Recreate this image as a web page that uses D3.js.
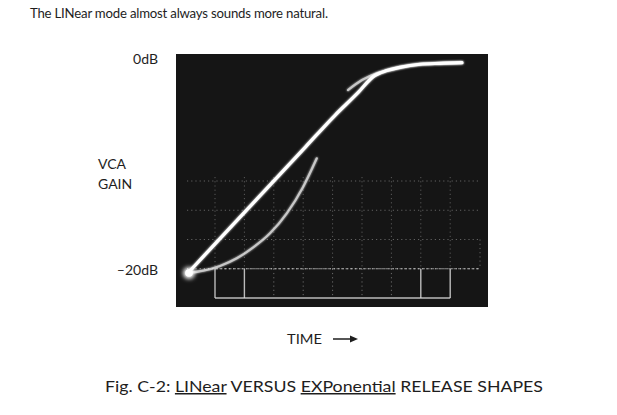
<!DOCTYPE html>
<html><head><meta charset="utf-8">
<script src="https://cdn.jsdelivr.net/npm/d3@7"></script>
<style>body{margin:0;background:#fff}</style>
</head><body><svg id="c" width="617" height="415"></svg>
<script>
// ---- data (time in graticule divisions from trace start, gain in dB) ----
const linearTime = [0, 1, 2, 3, 4, 5, 5.8, 6.29, 6.76, 7.2, 7.89, 8.57, 9.32];
const linearDb   = [-20, -17.0, -14.0, -11.0, -8.0, -5.0, -2.8, -1.35, -0.75, -0.45, -0.15, -0.06, 0];
const expTime    = [0, 0.52, 1.09, 1.66, 2.22, 2.79, 3.36, 3.92, 4.38, 4.9, 5.44, 5.92, 6.42, 6.76, 7.2, 7.89, 8.57, 9.32];
const expDb      = [-20, -19.78, -19.33, -18.6, -17.56, -16.22, -14.32, -11.79, -9.09, null, -2.6, -1.65, -1.0, -0.75, -0.45, -0.15, -0.06, 0];
const gainTicks  = [0, -20];
const gainLabels = ["0dB", "\u201320dB"];
const gridCols   = [0, 1, 2, 3, 4, 5, 6, 7, 8];
const gridRows   = [1, 2, 3, 4];
const boxCols    = [0, 1, 7, 8];

const svg = d3.select("#c");
const x = d3.scaleLinear().domain([0, 10]).range([188, 482]);
const y = d3.scaleLinear().domain([-20, 0]).range([273, 62.7]);
const gx = d3.scaleLinear().domain([0, 8]).range([215, 450.2]);
const gy = d3.scaleLinear().domain([0, 4]).range([298, 181]);

const defs = svg.append("defs");
const f = defs.append("filter").attr("id","glow").attr("x","-20%").attr("y","-20%").attr("width","140%").attr("height","140%");
f.append("feGaussianBlur").attr("in","SourceGraphic").attr("stdDeviation",1.3).attr("result","b");
const m = f.append("feMerge"); m.append("feMergeNode").attr("in","b"); m.append("feMergeNode").attr("in","SourceGraphic");
const f2 = defs.append("filter").attr("id","blur").attr("x","-100%").attr("y","-100%").attr("width","300%").attr("height","300%");
f2.append("feGaussianBlur").attr("stdDeviation",2.2);

const font = "Lato, 'Noto Sans', sans-serif";
const ink = "#1e1e1e";

// title
svg.append("text").attr("x",30).attr("y",18).attr("font-family",font).attr("font-size",13.2)
  .attr("fill",ink).attr("textLength",298).attr("lengthAdjust","spacing")
  .text("The LINear mode almost always sounds more natural.");

// scope screen
svg.append("rect").attr("x",176).attr("y",54).attr("width",312).attr("height",253).attr("fill","#151515");

// graticule
const g = svg.append("g").attr("stroke","#d8d8d8").attr("fill","none");
g.selectAll("line.row").data(gridRows).join("line")
  .attr("x1",187).attr("x2",480).attr("y1",d=>gy(d)).attr("y2",d=>gy(d))
  .attr("stroke-width",1).attr("stroke-dasharray","1.2 3").attr("opacity",d=>d===1?0.75:0.4);
g.selectAll("line.col").data(gridCols).join("line")
  .attr("x1",d=>gx(d)).attr("x2",d=>gx(d)).attr("y1",gy(4)-4).attr("y2",gy(1))
  .attr("stroke-width",1).attr("stroke-dasharray","1.2 3").attr("opacity",0.35);
g.selectAll("line.colb").data(gridCols).join("line")
  .attr("x1",d=>gx(d)).attr("x2",d=>gx(d)).attr("y1",gy(1)).attr("y2",gy(0))
  .attr("stroke-width",d=>boxCols.includes(d)?1.4:1)
  .attr("stroke-dasharray",d=>boxCols.includes(d)?null:"1.2 3")
  .attr("opacity",d=>boxCols.includes(d)?0.85:0.45);
g.append("line").attr("x1",gx(0)).attr("x2",gx(8)).attr("y1",gy(0)).attr("y2",gy(0))
  .attr("stroke-width",1.4).attr("opacity",0.85);
g.append("line").attr("x1",gx(0)).attr("x2",480).attr("y1",gy(1)).attr("y2",gy(1))
  .attr("stroke-width",1.2).attr("stroke-dasharray","3 1.5").attr("opacity",0.6);
g.append("line").attr("x1",480).attr("x2",480).attr("y1",gy(2)).attr("y2",gy(1))
  .attr("stroke-width",1).attr("stroke-dasharray","1.2 3").attr("opacity",0.4);

// traces
const linePts = linearTime.map((t,i)=>({t, db: linearDb[i]}));
const expPts = expTime.map((t,i)=>({t, db: expDb[i]}));
const gen = d3.line().defined(d=>d.db!=null).x(d=>x(d.t)).y(d=>y(d.db)).curve(d3.curveMonotoneX);

svg.append("path").datum(expPts).attr("d",gen).attr("fill","none")
  .attr("stroke","#f4f4f4").attr("stroke-width",2.2).attr("opacity",0.8)
  .attr("stroke-linecap","round").attr("filter","url(#glow)");
svg.append("path").datum(linePts).attr("d",gen).attr("fill","none")
  .attr("stroke","#ffffff").attr("stroke-width",3.2)
  .attr("stroke-linecap","round").attr("filter","url(#glow)");
svg.append("circle").attr("cx",x(0)+1).attr("cy",y(-20)).attr("r",6).attr("fill","#fff").attr("filter","url(#blur)");
svg.append("circle").attr("cx",x(0)+1).attr("cy",y(-20)).attr("r",3.8).attr("fill","#fff");

// gain labels
svg.selectAll("text.tick").data(gainTicks).join("text")
  .attr("x",158).attr("y",d=>y(d)+1.6).attr("text-anchor","end")
  .attr("font-family",font).attr("font-size",14).attr("fill",ink)
  .text((d,i)=>gainLabels[i]);
svg.append("text").attr("x",98).attr("y",169).attr("font-family",font).attr("font-size",14).attr("fill",ink).text("VCA");
svg.append("text").attr("x",98).attr("y",189).attr("font-family",font).attr("font-size",14).attr("fill",ink).text("GAIN");

// time label + arrow
svg.append("text").attr("x",287).attr("y",344).attr("font-family",font).attr("font-size",14).attr("fill",ink)
  .attr("textLength",35).attr("lengthAdjust","spacingAndGlyphs").text("TIME");
svg.append("line").attr("x1",333).attr("x2",353).attr("y1",339).attr("y2",339).attr("stroke",ink).attr("stroke-width",1.5);
svg.append("path").attr("d","M350,335.5 L358,339 L350,342.5 Z").attr("fill",ink);

// caption
const cap = svg.append("text").attr("x",105).attr("y",392).attr("font-family",font).attr("font-size",15)
  .attr("fill",ink).attr("textLength",438).attr("lengthAdjust","spacingAndGlyphs");
cap.append("tspan").text("Fig. C-2: ");
cap.append("tspan").attr("text-decoration","underline").text("LINear");
cap.append("tspan").text(" VERSUS ");
cap.append("tspan").attr("text-decoration","underline").text("EXPonential");
cap.append("tspan").text(" RELEASE SHAPES");
</script></body></html>
